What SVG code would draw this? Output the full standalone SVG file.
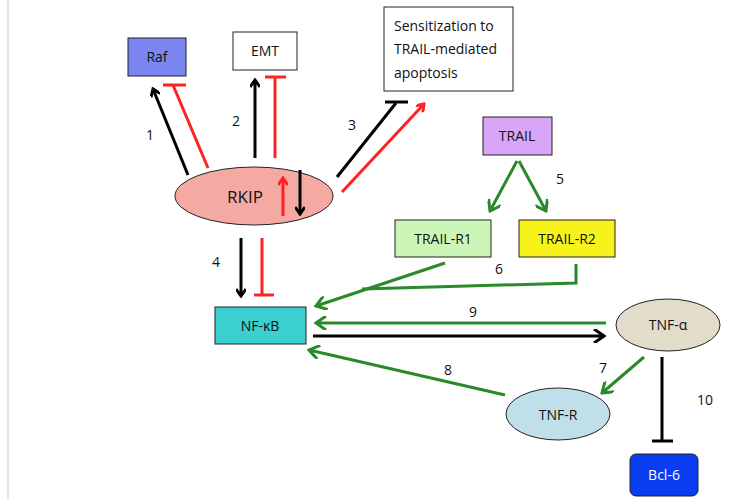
<svg xmlns="http://www.w3.org/2000/svg" width="734" height="499" viewBox="0 0 734 499">
<defs>
<marker id="ab" markerWidth="10" markerHeight="10" refX="8" refY="5" orient="auto" markerUnits="userSpaceOnUse"><path d="M1,0 L8,5 L1,10" fill="none" stroke="#000" stroke-width="3"/></marker>
<marker id="ar" markerWidth="10" markerHeight="10" refX="8" refY="5" orient="auto" markerUnits="userSpaceOnUse"><path d="M1,0 L8,5 L1,10" fill="none" stroke="#f22" stroke-width="3"/></marker>
<marker id="agf" markerWidth="14" markerHeight="14" refX="12" refY="7" orient="auto" markerUnits="userSpaceOnUse"><path d="M2,0 L12,7 L2,14" fill="none" stroke="#2a8a2a" stroke-width="3"/></marker>
<marker id="abf" markerWidth="14" markerHeight="14" refX="12" refY="7" orient="auto" markerUnits="userSpaceOnUse"><path d="M2,0 L12,7 L2,14" fill="none" stroke="#000" stroke-width="3"/></marker>
</defs>
<style>
text{font-family:"Open Sans","Liberation Sans",sans-serif;font-size:14px;fill:#111;text-anchor:middle}
.b{stroke:#000;stroke-width:3;fill:none}
.r{stroke:#f22;stroke-width:3;fill:none}
.g{stroke:#2a8a2a;stroke-width:3;fill:none}
.box{stroke:#222;stroke-width:1}
</style>
<rect width="734" height="499" fill="#fff"/>
<line x1="8" y1="0" x2="8" y2="499" stroke="#ccc"/>
<g id="connectors">
<line class="b" x1="188" y1="175" x2="153" y2="89" marker-end="url(#ab)"/>
<line class="r" x1="208" y1="168" x2="173" y2="85"/><line class="r" x1="163" y1="85" x2="186" y2="85"/>
<line class="b" x1="255" y1="158" x2="255" y2="80" marker-end="url(#ab)"/>
<line class="r" x1="275" y1="158" x2="275" y2="77"/><line class="r" x1="265" y1="77" x2="286" y2="77"/>
<line class="b" x1="337" y1="177" x2="396" y2="103"/><line class="b" x1="385" y1="102" x2="408" y2="102"/>
<line class="r" x1="342" y1="192" x2="424" y2="104" marker-end="url(#ar)"/>
<line class="b" x1="241" y1="238" x2="241" y2="296" marker-end="url(#ab)"/>
<line class="r" x1="262" y1="238" x2="262" y2="295"/><line class="r" x1="254" y1="295" x2="274" y2="295"/>
<line class="g" x1="517" y1="161" x2="490" y2="211" marker-end="url(#agf)"/>
<line class="g" x1="519" y1="161" x2="546" y2="211" marker-end="url(#agf)"/>
<line class="g" x1="445" y1="263" x2="316" y2="306" marker-end="url(#agf)"/>
<polyline class="g" points="576,264 576,283 362,289"/>
<line class="g" x1="606" y1="323" x2="316" y2="323" marker-end="url(#agf)"/>
<line class="b" x1="313" y1="336" x2="604" y2="336" marker-end="url(#abf)"/>
<line class="g" x1="644" y1="357" x2="602" y2="393" marker-end="url(#agf)"/>
<line class="g" x1="505" y1="395" x2="309" y2="350" marker-end="url(#agf)"/>
<line class="b" x1="662" y1="357" x2="662" y2="441"/><line class="b" x1="652" y1="441" x2="673" y2="441"/>
</g>
<g id="labels">
<text x="150" y="140">1</text><text x="236" y="126">2</text><text x="352" y="130">3</text>
<text x="216" y="267">4</text><text x="560" y="184">5</text><text x="499" y="274">6</text>
<text x="603" y="373">7</text><text x="448" y="375">8</text><text x="473" y="317">9</text><text x="705" y="405">10</text>
</g>
<g id="raf"><rect class="box" x="128" y="38" width="58" height="38" fill="#7b86f0"/><text x="157" y="62">Raf</text></g>
<g id="emt"><rect class="box" x="233" y="32" width="64" height="38" fill="#fff"/><text x="265" y="56">EMT</text></g>
<g id="sens"><rect class="box" x="384" y="7" width="129" height="84" fill="#fff"/>
<text x="394" y="31" style="text-anchor:start">Sensitization to</text><text x="394" y="54" style="text-anchor:start">TRAIL-mediated</text><text x="394" y="78" style="text-anchor:start">apoptosis</text></g>
<g id="rkip"><ellipse class="box" cx="254" cy="196" rx="79" ry="29" fill="#f4a9a3"/><text x="245" y="203" style="font-size:17px">RKIP</text>
<line class="r" x1="283" y1="216" x2="283" y2="178" marker-end="url(#ar)"/>
<line class="b" x1="300" y1="170" x2="300" y2="214" marker-end="url(#ab)"/></g>
<g id="trail"><rect class="box" x="483" y="117" width="69" height="38" fill="#d9a6f7"/><text x="517" y="141">TRAIL</text></g>
<g id="trailr1"><rect class="box" x="395" y="220" width="96" height="37" fill="#ccf5b8"/><text x="443" y="244">TRAIL-R1</text></g>
<g id="trailr2"><rect class="box" x="519" y="220" width="96" height="37" fill="#f7f21a"/><text x="567" y="244">TRAIL-R2</text></g>
<g id="nfkb"><rect class="box" x="215" y="307" width="91" height="37" fill="#3ccfd0"/><text x="260" y="331">NF-κB</text></g>
<g id="tnfa"><ellipse class="box" cx="668" cy="325" rx="52" ry="26" fill="#e2dccb"/><text x="668" y="330">TNF-α</text></g>
<g id="tnfr"><ellipse class="box" cx="558" cy="414" rx="52" ry="26" fill="#bfe0e8"/><text x="558" y="420">TNF-R</text></g>
<g id="bcl6"><rect class="box" x="630" y="454" width="68" height="42" rx="6" fill="#0a3cf0"/><text x="664" y="480" style="fill:#fff">Bcl-6</text></g>
</svg>
